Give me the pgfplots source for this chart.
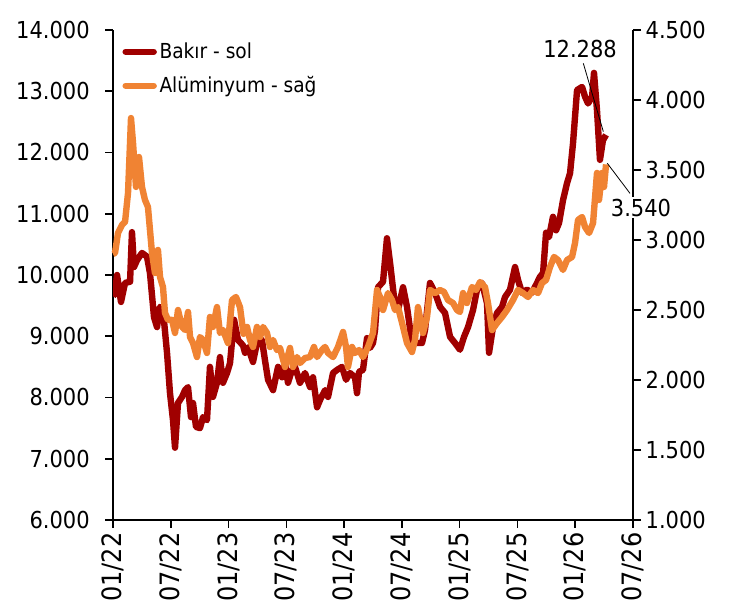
\documentclass[border=0pt]{standalone}
\usepackage{fontspec}
\setmainfont{DejaVu Sans Condensed}
\usepackage{pgfplots}
\pgfplotsset{compat=1.18}
\usetikzlibrary{calc}
\definecolor{bakir}{RGB}{160,0,0}
\definecolor{alu}{RGB}{240,131,51}

\pgfplotsset{ortak/.style={
  width=390pt, height=367.5pt, scale only axis,
  xmin=0, xmax=54,
  axis line style={line width=1.2pt, black},
  tick style={line width=1.2pt, black},
  tick align=outside, major tick length=6pt,
  /pgf/number format/1000 sep={.},
  /pgf/number format/fixed,
  /pgf/number format/precision=0,
  /pgf/number format/assume math mode=true,
  scaled y ticks=false,
  yticklabel style={font=\fontsize{17.5}{20}\selectfont},
}}

\begin{document}
\begin{tikzpicture}
\begin{axis}[ortak, name=ax,
  ymin=6000, ymax=14000, ytick={6000,7000,...,14000},
  axis y line*=left, axis x line*=bottom,
  yticklabel style={xshift=-8pt},
  xtick={0,6,...,54},
  xticklabels={01/22,07/22,01/23,07/23,01/24,07/24,01/25,07/25,01/26,07/26},
  xticklabel style={rotate=90, anchor=east, font=\fontsize{20}{22}\selectfont},
  legend cell align=left,
  legend style={at={(0.01,0.985)}, anchor=north west, draw=none, fill=none,
    font=\fontsize{15.5}{18}\selectfont, row sep=8pt},
  legend image code/.code={\draw[#1,line cap=round] (0pt,0pt) -- (21pt,0pt);},
]
% Bakir (sol eksen)
\addplot[bakir, line width=4.8pt, line join=round] coordinates {
(0,9650) (0.21,9706) (0.42,10000) (0.83,9560) (1.25,9870) (1.77,9890) (1.97,10700)
(2.18,10130) (2.49,10240) (3.01,10360) (3.53,10300) (3.84,10030) (4.26,9310)
(4.57,9150) (4.88,9480) (5.19,9430) (5.61,8730) (5.92,8070) (6.23,7630) (6.44,7180)
(6.75,7910) (7.17,8010) (7.48,8120) (7.79,8170) (8.10,7680) (8.31,7910) (8.62,7520)
(9.03,7500) (9.35,7680) (9.76,7630) (10.07,8500) (10.38,8010) (10.80,8240)
(11.11,8660) (11.42,8240) (11.84,8400) (12.15,8560) (12.57,9270) (12.98,8940)
(13.50,8850) (13.71,8730) (14.02,8820) (14.54,8580) (14.95,8890) (15.47,8940)
(15.78,8610) (16.10,8290) (16.62,8120) (17.14,8500) (17.55,8330) (17.86,8560)
(18.17,8240) (18.59,8450) (18.90,8500) (19.42,8240) (19.94,8400) (20.46,8170)
(20.77,8330) (21.19,7840) (21.50,7960) (22.02,8120) (22.33,8010) (22.85,8400)
(23.26,8450) (23.78,8500) (24.20,8290) (24.61,8400) (25.13,8330) (25.34,8070)
(25.55,8420) (25.96,8450) (26.38,8970) (26.69,8810) (27.00,8890) (27.21,9100)
(27.52,9800) (28.04,9890) (28.45,10600) (28.77,10200) (29.18,9640) (29.60,9430)
(30.12,9800) (30.53,9480) (31.05,8890) (31.57,8890) (32.09,8890) (32.40,9100)
(32.92,9870) (33.44,9710) (33.96,9480) (34.48,9380) (35.00,8990) (35.51,8890)
(36.03,8780) (36.45,8990) (36.87,9150) (37.39,9430) (37.80,9760) (38.32,9870)
(38.84,9540) (39.05,8730) (39.46,9150) (39.88,9380) (40.40,9480) (40.71,9640)
(41.23,9760) (41.75,10130) (42.06,9920) (42.47,9710) (42.99,9760) (43.51,9710)
(44.03,9870) (44.34,9970) (44.66,10030) (44.97,10690) (45.28,10620) (45.69,10950)
(46.01,10730) (46.32,10850) (46.73,11220) (47.15,11500) (47.46,11660) (47.77,12150)
(48.19,13020) (48.71,13070) (49.02,12910) (49.33,12800) (49.75,12910) (49.95,13300)
(50.26,12690) (50.57,11880) (50.88,12200) (51.20,12288)
};
\addlegendentry{Bakır - sol}
\addlegendimage{alu, line width=4.8pt}
\addlegendentry{Alüminyum - sağ}
\draw[line width=0.6pt] (axis cs:48.84,13456) -- (axis cs:50.92,12340);
\node[fill=white, inner sep=1pt, font=\fontsize{17.5}{20}\selectfont] at (axis cs:48.5,13690) {12.288};
\end{axis}

\begin{axis}[ortak, clip=false,
  ymin=1000, ymax=4500, ytick={1000,1500,...,4500},
  axis y line*=right, axis x line=none,
]
% Aluminyum (sag eksen)
\addplot[alu, line width=4.8pt, line join=round] coordinates {
(0,2900) (0.21,2907) (0.52,3050) (0.93,3107) (1.25,3129) (1.56,3336) (1.87,3871)
(2.08,3693) (2.39,3379) (2.70,3593) (3.01,3379) (3.32,3286) (3.63,3236) (4.05,2907)
(4.36,2764) (4.67,2929) (4.88,2736) (5.19,2664) (5.40,2479) (5.71,2429) (6.13,2429)
(6.44,2336) (6.75,2500) (7.17,2379) (7.48,2357) (7.79,2486) (8.00,2307) (8.31,2264)
(8.72,2164) (9.03,2307) (9.35,2286) (9.76,2193) (10.07,2450) (10.38,2379)
(10.80,2521) (11.11,2336) (11.42,2357) (11.94,2264) (12.36,2571) (12.77,2593)
(13.19,2520) (13.55,2330) (13.92,2379) (14.23,2286) (14.54,2236) (14.95,2379)
(15.27,2307) (15.58,2379) (15.99,2336) (16.30,2236) (16.62,2286) (17.03,2214)
(17.34,2229) (17.86,2093) (18.38,2229) (18.69,2093) (19.11,2164) (19.42,2121)
(19.94,2157) (20.46,2164) (20.87,2236) (21.19,2164) (21.70,2214) (22.02,2236)
(22.33,2193) (22.85,2164) (23.37,2236) (23.89,2343) (24.20,2236) (24.40,2093)
(24.82,2236) (25.13,2193) (25.55,2214) (25.96,2164) (26.48,2236) (27.00,2336)
(27.42,2643) (27.73,2593) (28.04,2500) (28.56,2621) (28.97,2571) (29.29,2500)
(29.60,2521) (30.12,2379) (30.53,2264) (31.05,2200) (31.36,2286) (31.67,2521)
(31.99,2407) (32.19,2336) (32.61,2450) (32.92,2643) (33.44,2621) (33.96,2643)
(34.37,2629) (34.79,2571) (35.31,2550) (35.72,2500) (36.03,2486) (36.35,2621)
(36.76,2550) (37.28,2664) (37.70,2643) (38.11,2700) (38.63,2664) (38.94,2550)
(39.36,2357) (39.88,2407) (40.40,2450) (40.92,2500) (41.54,2571) (42.06,2643)
(42.58,2621) (43.10,2593) (43.62,2643) (44.14,2621) (44.55,2693) (44.97,2714)
(45.38,2807) (45.80,2879) (46.21,2857) (46.73,2786) (47.15,2857) (47.67,2879)
(47.98,2979) (48.29,3143) (48.71,3164) (49.02,3093) (49.44,3050) (49.85,3121)
(50.26,3479) (50.47,3286) (50.78,3479) (50.99,3379) (51.20,3540)
};
\draw[line width=0.6pt] (axis cs:51.33,3548) -- (axis cs:53.69,3333);
\node[fill=white, inner sep=1pt, font=\fontsize{17.5}{20}\selectfont] at (axis cs:54.83,3232) {3.540};
\end{axis}
\pgfresetboundingbox
\useasboundingbox ($(ax.south west)+(-84.75pt,-71.25pt)$) rectangle ($(ax.north east)+(77.25pt,22.5pt)$);
\end{tikzpicture}
\end{document}
